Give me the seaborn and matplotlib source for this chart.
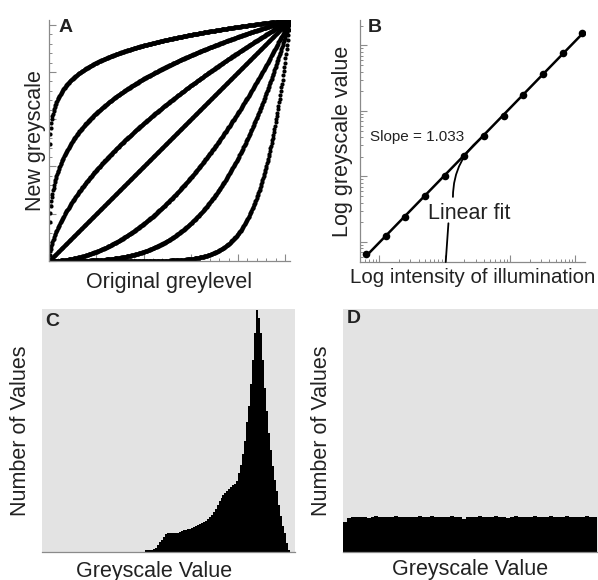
import numpy as np
import matplotlib
matplotlib.use("Agg")
import matplotlib.pyplot as plt
import seaborn as sns
from matplotlib.ticker import MultipleLocator, LogLocator, NullFormatter

# --- A: gamma exponents of the seven greyscale transfer curves
gammas = [0.12, 0.3, 0.6, 1.0, 2.0, 3.5, 9.0]
grey_in = np.linspace(0, 255, 420)

# --- B: illumination (doubling steps) vs measured greyscale value
illum = [0.625, 1.25, 2.5, 5, 10, 20, 40, 80, 160, 320, 640, 1280]
grey_meas = [0.66, 1.24, 2.45, 5.1, 10.0, 20.5, 41.5, 85, 178, 370, 760, 1550]

# --- C: skewed histogram (bins of 2 grey levels)
c_centers = list(range(105, 250, 2))
c_counts = [7, 8, 9, 10, 12, 18, 28, 40, 50, 62,
            74, 79, 80, 80, 80, 77, 77, 81, 85, 89,
            91, 93, 96, 100, 103, 108, 112, 116, 120, 124,
            128, 134, 142, 154, 165, 178, 192, 208, 222, 235,
            244, 252, 259, 267, 275, 281, 292, 325, 357, 405,
            455, 535, 600, 690, 790, 900, 995, 965, 900, 790,
            675, 580, 490, 420, 355, 295, 250, 195, 150, 105,
            78, 35, 8]

# --- D: flat (equalised) histogram (bins of 4 grey levels)
d_centers = list(range(2, 258, 4))
d_counts = [122, 140, 142, 144, 146, 145, 138, 146, 147, 145, 146, 144, 146, 147, 145, 146,
            143, 145, 146, 147, 146, 145, 147, 146, 144, 146, 145, 147, 146, 145, 137, 146,
            145, 146, 147, 145, 146, 144, 147, 146, 145, 139, 146, 147, 145, 146, 144, 146,
            147, 145, 146, 145, 147, 146, 144, 146, 147, 145, 146, 145, 146, 147, 145, 146]

sns.set_style("white")
plt.rcParams['font.family'] = ['Liberation Sans', 'DejaVu Sans']
txt = '#222222'
spine_c = '#8a8a8a'
bg = '#e3e3e3'

fig = plt.figure(figsize=(5.98, 5.80), dpi=100)
W, H = 598, 580


def add_ax(l, t, r, b):
    return fig.add_axes([l / W, 1 - b / H, (r - l) / W, (b - t) / H])


axA = add_ax(49, 20, 290, 261)
axB = add_ax(360, 20, 585, 262)
axC = add_ax(41.7, 309, 295, 552)
axD = add_ax(342.7, 309, 598, 552)

# A - transfer curves
for g in gammas:
    sns.scatterplot(x=grey_in, y=255 * (grey_in / 255) ** g, s=9, color='black',
                    linewidth=0, ax=axA)
axA.set_xlim(0, 255)
axA.set_ylim(0, 255)
axA.xaxis.set_major_locator(MultipleLocator(50))
axA.xaxis.set_minor_locator(MultipleLocator(10))
axA.yaxis.set_major_locator(MultipleLocator(50))
axA.yaxis.set_minor_locator(MultipleLocator(10))
axA.set_xlabel("Original greylevel", fontsize=15.5, color=txt, labelpad=8)
axA.set_ylabel("New greyscale", fontsize=15.5, color=txt, labelpad=2)

# B - log-log calibration
lx, ly = np.log10(illum), np.log10(grey_meas)
k, c0 = np.polyfit(lx, ly, 1)
fit_x = np.array([illum[0], illum[-1]])
sns.lineplot(x=fit_x, y=10 ** (c0 + k * np.log10(fit_x)), color='black', lw=1.8, ax=axB)
sns.scatterplot(x=illum, y=grey_meas, s=30, color='black', linewidth=0, ax=axB, zorder=3)
axB.set_xscale('log')
axB.set_yscale('log')
axB.set_xlim(0.506, 1413)
axB.set_ylim(0.495, 2450)
for a in (axB.xaxis, axB.yaxis):
    a.set_major_locator(LogLocator(base=10, numticks=12))
    a.set_minor_locator(LogLocator(base=10, subs=range(2, 10), numticks=12))
    a.set_minor_formatter(NullFormatter())
axB.set_xlabel("Log intensity of illumination", fontsize=14.8, color=txt, labelpad=4)
axB.set_ylabel("Log greyscale value", fontsize=15.5, color=txt, labelpad=5)
axB.text(0.044, 0.517, "Slope = 1.033", transform=axB.transAxes, fontsize=11,
         color=txt, ha='left', va='center')
axB.text(0.30, 0.20, "Linear fit", transform=axB.transAxes, fontsize=15.5,
         color=txt, ha='left', va='center')
axB.annotate("", xy=(40, 41.5), xycoords='data', xytext=(0.413, 0.269),
             textcoords='axes fraction',
             arrowprops=dict(arrowstyle='-', color='black', lw=1.3,
                             connectionstyle='arc3,rad=-0.25', shrinkA=0, shrinkB=0))
axB.annotate("", xy=(0.381, 0.0), xycoords='axes fraction', xytext=(0.393, 0.16),
             textcoords='axes fraction',
             arrowprops=dict(arrowstyle='-', color='black', lw=1.3, shrinkA=0, shrinkB=0))

for ax in (axA, axB):
    sns.despine(ax=ax)
    for s in ('left', 'bottom'):
        ax.spines[s].set_color(spine_c)
        ax.spines[s].set_linewidth(0.9)
    ax.tick_params(which='both', bottom=True, left=True, direction='in', color=spine_c,
                   labelbottom=False, labelleft=False)
    ax.tick_params(which='major', length=5, width=0.8)
    ax.tick_params(which='minor', length=2.5, width=0.7)

# C and D - histograms
sns.histplot(x=c_centers, weights=c_counts, binwidth=2, binrange=(104, 250),
             element='step', fill=True, color='black', alpha=1, linewidth=0, ax=axC)
sns.histplot(x=d_centers, weights=d_counts, binwidth=4, binrange=(0, 256),
             element='step', fill=True, color='black', alpha=1, linewidth=0, ax=axD)
axC.set_xlim(0, 255)
axD.set_xlim(0, 257)
for ax in (axC, axD):
    ax.set_ylim(0, 1000)
    ax.set_facecolor(bg)
    for s in ('top', 'right', 'left'):
        ax.spines[s].set_visible(False)
    ax.spines['bottom'].set_color(spine_c)
    ax.spines['bottom'].set_linewidth(0.9)
    ax.set_xticks([])
    ax.set_yticks([])
    ax.set_xlabel("Greyscale Value", fontsize=15.5, color=txt, labelpad=5)
    ax.set_ylabel("Number of Values", fontsize=15.5, color=txt, labelpad=8)
axC.xaxis.set_label_coords(0.445, -0.035, transform=axC.transAxes)
axC.xaxis.label.set_va('top')

# panel letters
for ax, letter, x, y in ((axA, 'A', 0.041, 0.969), (axB, 'B', 0.036, 0.969),
                         (axC, 'C', 0.013, 0.949), (axD, 'D', 0.017, 0.961)):
    ax.text(x, y, letter, transform=ax.transAxes, fontsize=14, fontweight='bold',
            color=txt, ha='left', va='center')

fig.savefig("out.png", dpi=100)
